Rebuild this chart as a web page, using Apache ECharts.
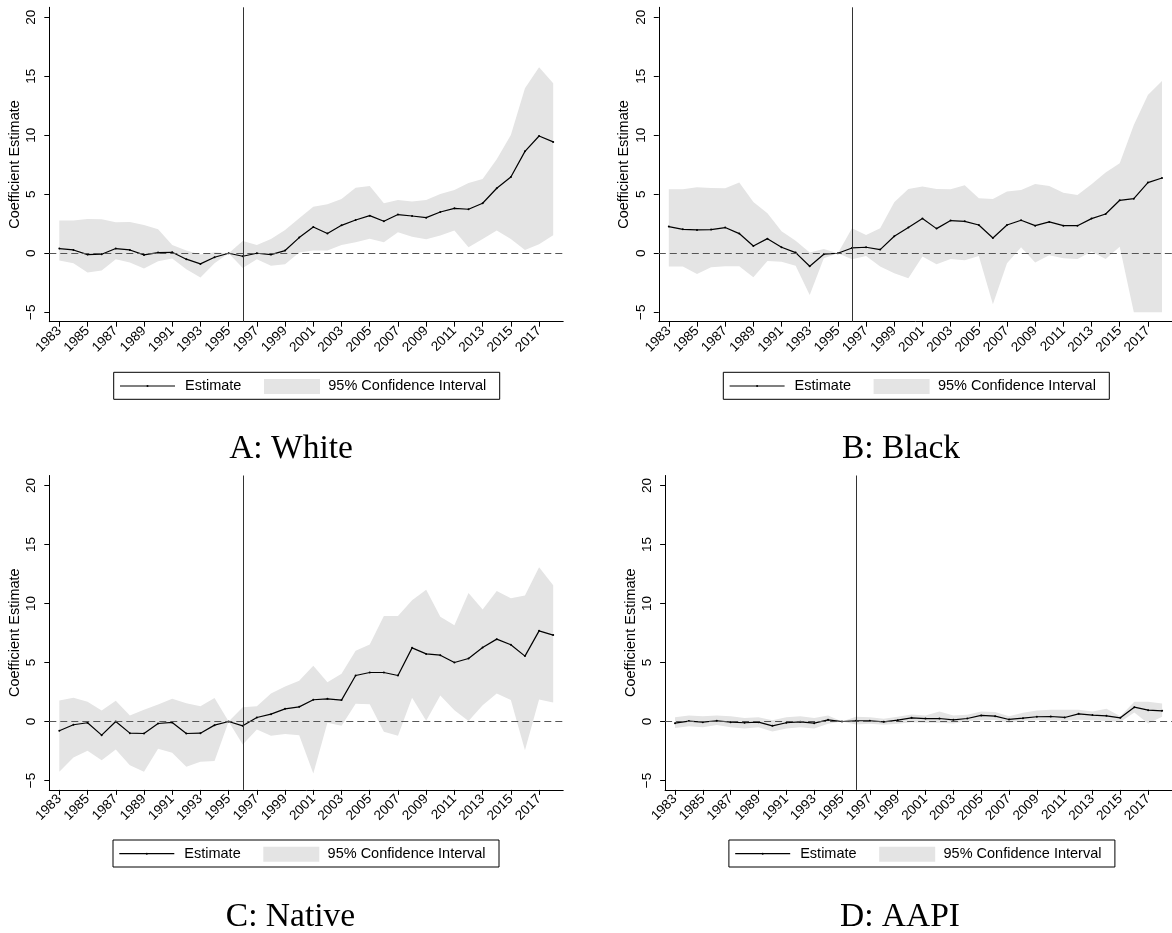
<!DOCTYPE html>
<html>
<head>
<meta charset="utf-8">
<title>Event-study coefficient estimates by group</title>
<script src="https://cdn.jsdelivr.net/npm/echarts@6/dist/echarts.min.js"></script>
<style>
  html, body { margin: 0; padding: 0; background: #fff; }
  #chart { width: 1172px; height: 933px; }
</style>
</head>
<body>
<div id="chart"></div>
<script>
// Survey years and the labelled ticks on the x axis
const years = [1983, 1984, 1985, 1986, 1987, 1988, 1989, 1990, 1991, 1992, 1993, 1994,
  1995, 1996, 1997, 1998, 1999, 2000, 2001, 2002, 2003, 2004, 2005, 2006,
  2007, 2008, 2009, 2010, 2011, 2012, 2013, 2014, 2015, 2016, 2017, 2018];
const xTickYears = [1983, 1985, 1987, 1989, 1991, 1993, 1995, 1997, 1999, 2001,
  2003, 2005, 2007, 2009, 2011, 2013, 2015, 2017];
const yTickValues = [-5, 0, 5, 10, 15, 20];
const policyYear = 1996;

// A: White
const whiteEst = [0.40, 0.28, -0.11, -0.08, 0.40, 0.28, -0.14, 0.06, 0.08, -0.50, -0.90, -0.34,
  0, -0.25, 0.00, -0.11, 0.23, 1.33, 2.23, 1.67, 2.37, 2.82, 3.19, 2.71,
  3.28, 3.16, 3.02, 3.50, 3.81, 3.73, 4.24, 5.51, 6.47, 8.64, 9.94, 9.44];
const whiteHi = [2.77, 2.77, 2.91, 2.88, 2.63, 2.66, 2.40, 2.03, 0.71, 0.23, -0.10, 0.08,
  0, 1.05, 0.71, 1.21, 1.98, 2.97, 3.95, 4.15, 4.60, 5.56, 5.71, 4.24,
  4.52, 4.38, 4.52, 5.03, 5.37, 5.96, 6.30, 7.97, 10.03, 13.98, 15.76, 14.41];
const whiteLo = [-0.62, -0.85, -1.64, -1.47, -0.51, -0.79, -1.30, -0.68, -0.45, -1.36, -2.06, -0.85,
  0, -1.24, -0.51, -1.05, -0.93, 0.06, 0.23, 0.23, 0.71, 0.93, 1.24, 0.93,
  1.78, 1.41, 1.19, 1.50, 1.92, 0.51, 1.21, 1.92, 1.21, 0.28, 0.76, 1.53];

// B: Black
const blackEst = [2.26, 2.03, 1.98, 2.01, 2.18, 1.67, 0.62, 1.24, 0.51, 0.06, -1.10, -0.08,
  0, 0.45, 0.51, 0.31, 1.44, 2.18, 2.94, 2.09, 2.77, 2.71, 2.40, 1.30,
  2.40, 2.80, 2.34, 2.66, 2.34, 2.34, 2.94, 3.33, 4.49, 4.63, 5.99, 6.38];
const blackHi = [5.42, 5.42, 5.59, 5.54, 5.51, 5.99, 4.35, 3.39, 1.86, 1.07, 0.06, 0.37,
  0, 2.12, 1.55, 2.12, 4.32, 5.45, 5.65, 5.45, 5.42, 5.76, 4.66, 4.60,
  5.23, 5.37, 5.88, 5.71, 5.14, 4.94, 5.85, 6.84, 7.63, 10.88, 13.42, 14.60];
const blackLo = [-1.13, -1.13, -1.75, -1.19, -1.10, -1.10, -2.03, -0.65, -0.71, -1.05, -3.53, -0.42,
  0, -0.51, -0.23, -1.13, -1.69, -2.12, -0.28, -0.93, -0.48, -0.59, -0.23, -4.32,
  -0.85, 0.51, -0.79, -0.17, -0.42, -0.48, 0.14, -0.48, 0.56, -5.00, -5.00, -5.00];

// C: Native
const nativeEst = [-0.79, -0.28, -0.11, -1.16, 0.00, -0.99, -1.02, -0.17, -0.08, -1.02, -0.99, -0.31,
  0, -0.37, 0.34, 0.62, 1.07, 1.24, 1.84, 1.92, 1.81, 3.90, 4.15, 4.15,
  3.90, 6.24, 5.73, 5.62, 5.00, 5.34, 6.27, 6.98, 6.50, 5.54, 7.68, 7.32];
const nativeHi = [1.78, 2.01, 1.67, 0.93, 1.75, 0.51, 0.99, 1.44, 1.92, 1.55, 1.30, 1.98,
  0, 1.21, 1.30, 2.37, 2.97, 3.45, 4.72, 3.33, 4.04, 5.99, 6.53, 8.95,
  8.95, 10.28, 11.16, 8.87, 8.16, 10.90, 9.49, 11.05, 10.45, 10.68, 13.08, 11.55];
const nativeLo = [-4.27, -3.05, -2.49, -3.28, -2.37, -3.70, -4.27, -2.32, -2.66, -3.84, -3.42, -3.36,
  0, -1.95, -0.68, -1.21, -1.07, -1.16, -4.41, -0.11, -0.37, 1.50, 1.47, -0.88,
  -1.21, 2.01, 0.06, 2.20, 0.96, 0.03, 1.38, 2.37, 1.81, -2.43, 1.86, 1.61];

// D: AAPI
const aapiEst = [-0.14, 0.03, -0.06, 0.06, -0.06, -0.11, -0.06, -0.37, -0.11, -0.03, -0.14, 0.14,
  0, 0.06, 0.06, -0.03, 0.11, 0.31, 0.25, 0.25, 0.14, 0.25, 0.51, 0.45,
  0.17, 0.28, 0.40, 0.42, 0.34, 0.65, 0.54, 0.48, 0.31, 1.21, 0.96, 0.90];
const aapiHi = [0.35, 0.50, 0.45, 0.50, 0.45, 0.30, 0.35, 0.10, 0.35, 0.45, 0.30, 0.50,
  0, 0.40, 0.35, 0.23, 0.40, 0.60, 0.50, 0.85, 0.50, 0.57, 0.85, 0.80,
  0.45, 0.74, 0.93, 1.00, 1.00, 1.00, 0.85, 1.07, 0.45, 1.67, 1.67, 1.53];
const aapiLo = [-0.55, -0.40, -0.50, -0.30, -0.50, -0.60, -0.50, -0.85, -0.60, -0.50, -0.60, -0.20,
  0, -0.25, -0.20, -0.28, -0.20, -0.06, -0.10, -0.10, -0.17, 0.05, 0.10, 0.12,
  -0.10, 0.06, 0.10, 0.08, 0.06, 0.15, 0.10, 0.05, -0.05, 0.76, -0.17, 0.40];

const panelTitles = ['A: White', 'B: Black', 'C: Native', 'D: AAPI'];
const legendLabels = ['Estimate', '95% Confidence Interval'];

// Panel frames: plot rectangle, legend box and caption position
const panels = [
  { est: whiteEst, lo: whiteLo, hi: whiteHi, grid: { left: 49.3, top: 7.3 }, legend: [113.7, 372.3], title: [291, 449] },
  { est: blackEst, lo: blackLo, hi: blackHi, grid: { left: 658.8, top: 7.3 }, legend: [723.3, 372.3], title: [901, 449] },
  { est: nativeEst, lo: nativeLo, hi: nativeHi, grid: { left: 49.3, top: 475.5 }, legend: [113.0, 840.0], title: [290.5, 917] },
  { est: aapiEst, lo: aapiLo, hi: aapiHi, grid: { left: 665.1, top: 475.5 }, legend: [728.9, 840.0], title: [900, 917] }
];

const SANS = '"Liberation Sans", Arial, Helvetica, sans-serif';
const SERIF = '"Liberation Serif", "Times New Roman", serif';
const PLOT_W = 513.9, PLOT_H = 314.4;
const BAND_FILL = '#e4e4e4';

const grids = [], xAxes = [], yAxes = [], series = [], graphics = [];

function minusSign(v) {
  return v < 0 ? '\u2212' + Math.abs(v) : String(v);
}

panels.forEach((p, gi) => {
  grids.push({ left: p.grid.left, top: p.grid.top, width: PLOT_W, height: PLOT_H, containLabel: false });

  xAxes.push({
    gridIndex: gi, type: 'value', min: 1982.29, max: 2018.71,
    axisLine: { onZero: false, lineStyle: { color: '#000', width: 1 } },
    axisTick: { show: true, customValues: xTickYears, length: 5, lineStyle: { color: '#000', width: 1 } },
    axisLabel: {
      customValues: xTickYears, rotate: 45, margin: 7, color: '#000', fontSize: 13.5, fontFamily: SANS,
      formatter: (v) => String(Math.round(v))
    },
    splitLine: { show: false }
  });

  yAxes.push({
    gridIndex: gi, type: 'value', min: -5.8, max: 20.85,
    name: 'Coefficient Estimate', nameLocation: 'middle', nameGap: 27,
    nameTextStyle: { color: '#000', fontSize: 14.5, fontFamily: SANS },
    axisLine: { show: true, onZero: false, lineStyle: { color: '#000', width: 1 } },
    axisTick: { show: true, customValues: yTickValues, length: 5, lineStyle: { color: '#000', width: 1 } },
    axisLabel: { customValues: yTickValues, rotate: 90, margin: 11, color: '#000', fontSize: 13.5, fontFamily: SANS, formatter: minusSign },
    splitLine: { show: false }
  });

  // Reference lines: zero line and the 1996 policy year, beneath the band
  series.push({
    type: 'line', xAxisIndex: gi, yAxisIndex: gi, data: [], z: 1, silent: true,
    markLine: {
      silent: true, symbol: 'none', animation: false,
      label: { show: false },
      data: [
        { yAxis: 0, lineStyle: { type: [7, 4], color: '#555', width: 1 } },
        { xAxis: policyYear, lineStyle: { type: 'solid', color: '#333', width: 1 } }
      ]
    }
  });

  // 95% confidence band as one filled polygon (upper edge, then lower edge back)
  series.push({
    type: 'custom', name: legendLabels[1], xAxisIndex: gi, yAxisIndex: gi, z: 2, silent: true,
    data: years.map((y, i) => [y, p.lo[i], p.hi[i]]),
    encode: { x: 0, y: [1, 2] },
    renderItem: (params, api) => {
      if (params.dataIndex !== 0) return null;
      const pts = [];
      for (let i = 0; i < years.length; i++) pts.push(api.coord([years[i], p.hi[i]]));
      for (let i = years.length - 1; i >= 0; i--) pts.push(api.coord([years[i], p.lo[i]]));
      return { type: 'polygon', shape: { points: pts }, style: { fill: BAND_FILL, stroke: null } };
    }
  });

  // Point estimates
  series.push({
    type: 'line', name: legendLabels[0], xAxisIndex: gi, yAxisIndex: gi, z: 3,
    data: years.map((y, i) => [y, p.est[i]]),
    symbol: 'circle', symbolSize: 2, showSymbol: true,
    lineStyle: { color: '#000', width: 1.2 },
    itemStyle: { color: '#000' }
  });

  // Legend box
  const [lx, ly] = p.legend;
  const midY = ly + 13.7;
  graphics.push(
    { type: 'rect', silent: true, shape: { x: lx, y: ly, width: 386, height: 27 }, style: { fill: '#fff', stroke: '#000', lineWidth: 1 } },
    { type: 'line', silent: true, shape: { x1: lx + 6.3, y1: midY, x2: lx + 61.3, y2: midY }, style: { stroke: '#000', lineWidth: 1.2 } },
    { type: 'circle', silent: true, shape: { cx: lx + 33.8, cy: midY, r: 1 }, style: { fill: '#000' } },
    { type: 'text', silent: true, x: lx + 71.3, y: midY, style: { text: legendLabels[0], fill: '#000', font: '14.5px ' + SANS, verticalAlign: 'middle', align: 'left' } },
    { type: 'rect', silent: true, shape: { x: lx + 150.3, y: ly + 6.7, width: 56, height: 15 }, style: { fill: BAND_FILL } },
    { type: 'text', silent: true, x: lx + 214.6, y: midY, style: { text: legendLabels[1], fill: '#000', font: '14.5px ' + SANS, verticalAlign: 'middle', align: 'left' } },
    { type: 'text', silent: true, x: p.title[0], y: p.title[1], style: { text: panelTitles[gi], fill: '#000', font: '33.5px ' + SERIF, verticalAlign: 'middle', align: 'center' } }
  );
});

const chart = echarts.init(document.getElementById('chart'), null, { renderer: 'canvas' });
chart.setOption({
  animation: false,
  backgroundColor: '#fff',
  grid: grids,
  xAxis: xAxes,
  yAxis: yAxes,
  series: series,
  graphic: graphics
});
</script>
</body>
</html>
